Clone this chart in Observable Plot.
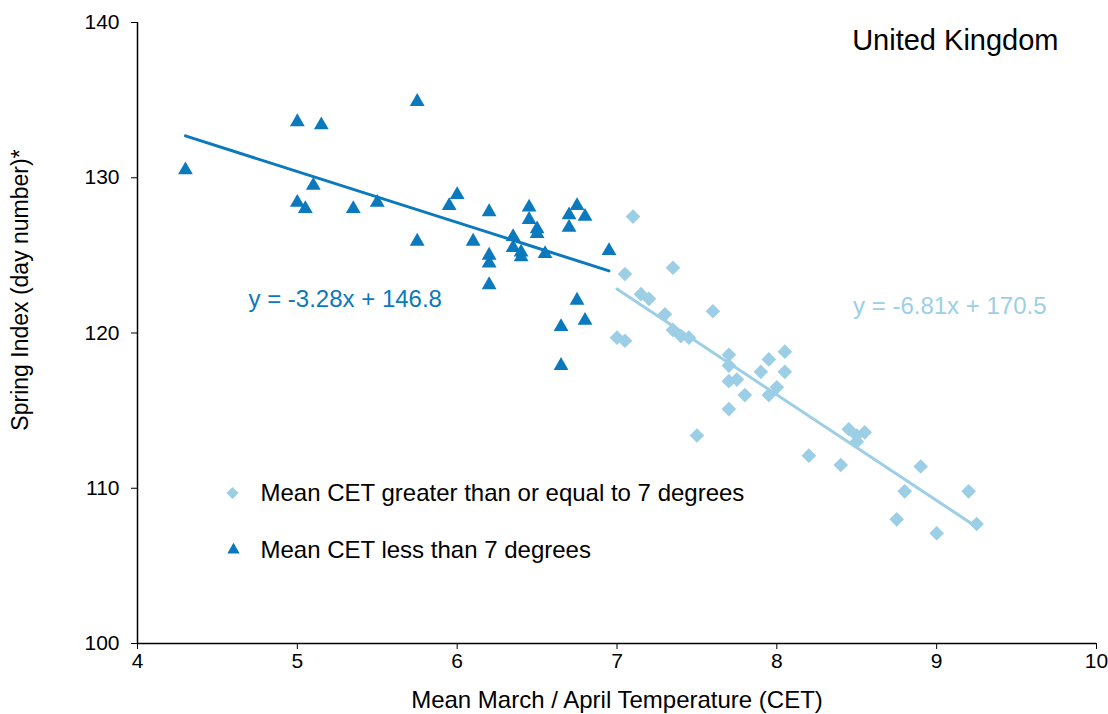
<!DOCTYPE html>
<html>
<head>
<meta charset="utf-8">
<script src="https://cdn.jsdelivr.net/npm/d3@7"></script>
<script src="https://cdn.jsdelivr.net/npm/@observablehq/plot@0.6"></script>
<style>
  html, body { margin: 0; padding: 0; background: #fff; }
  #chart svg { display: block; }
</style>
</head>
<body>
<div id="chart"></div>
<script>
// ---- Data ----
const lowX = [4.30, 5.00, 5.15, 5.75, 5.00, 5.05, 5.10, 5.35, 5.50, 5.75, 5.95, 6.00, 6.10, 6.20, 6.20, 6.20, 6.20, 6.35, 6.35, 6.40, 6.40, 6.45, 6.45, 6.50, 6.50, 6.55, 6.65, 6.65, 6.70, 6.70, 6.75, 6.75, 6.80, 6.80, 6.95];
const lowY = [130.5, 133.6, 133.4, 134.9, 128.4, 128.0, 129.5, 128.0, 128.4, 125.9, 128.2, 128.9, 125.9, 127.8, 125.0, 124.5, 123.1, 126.2, 125.5, 125.2, 124.9, 128.1, 127.3, 126.7, 126.4, 125.1, 120.4, 117.9, 126.8, 127.6, 128.2, 122.1, 127.5, 120.8, 125.3];

const highX = [7.10, 7.05, 7.35, 7.15, 7.20, 7.30, 7.60, 7.35, 7.40, 7.45, 7.00, 7.05, 7.70, 7.70, 7.95, 8.05, 8.05, 7.90, 7.70, 7.75, 7.80, 7.95, 8.00, 7.70, 7.50, 8.45, 8.50, 8.55, 8.50, 8.20, 8.40, 8.90, 8.80, 9.20, 8.75, 9.00, 9.25];
const highY = [127.5, 123.8, 124.2, 122.5, 122.2, 121.2, 121.4, 120.2, 119.8, 119.7, 119.7, 119.5, 118.6, 117.9, 118.3, 118.8, 117.5, 117.5, 116.9, 117.0, 116.0, 116.0, 116.5, 115.1, 113.4, 113.8, 113.4, 113.6, 113.0, 112.1, 111.5, 111.4, 109.8, 109.8, 108.0, 107.1, 107.7];

const lowFit = {slope: -3.28, intercept: 146.8};
const highFit = {slope: -6.81, intercept: 170.5};
const lowEquation = "y = -3.28x + 146.8";
const highEquation = "y = -6.81x + 170.5";

const seriesNames = ["Mean CET greater than or equal to 7 degrees", "Mean CET less than 7 degrees"];
const chartTitle = "United Kingdom";
const xTicks = [4, 5, 6, 7, 8, 9, 10];
const yTicks = [100, 110, 120, 130, 140];
const xLabel = "Mean March / April Temperature (CET)";
const yLabel = "Spring Index (day number)*";

// ---- Styles ----
const darkBlue = "#0a79bd";
const lightBlue = "#9ccfe6";
const font = "'Liberation Sans', Arial, sans-serif";

const lowPts = lowX.map((x, i) => ({x, y: lowY[i]}));
const highPts = highX.map((x, i) => ({x, y: highY[i]}));
const fitLine = (xs, f) => d3.extent(xs).map(x => ({x, y: f.slope * x + f.intercept}));

const chart = Plot.plot({
  width: 1108,
  height: 714,
  marginLeft: 137,
  marginRight: 12,
  marginTop: 22,
  marginBottom: 71,
  style: {fontFamily: font, fontSize: "21px", color: "#000", background: "#fff"},
  x: {domain: [xTicks[0], xTicks[xTicks.length - 1]]},
  y: {domain: [yTicks[0], yTicks[yTicks.length - 1]]},
  marks: [
    Plot.axisX({ticks: xTicks, tickFormat: d => String(d), tickSize: 6, tickPadding: 4, fontSize: 21, label: null}),
    Plot.axisY({ticks: yTicks, tickFormat: d => String(d), tickSize: 6, tickPadding: 12, fontSize: 21, label: null}),
    Plot.ruleX([xTicks[0]], {stroke: "#000", strokeWidth: 1.5}),
    Plot.ruleY([yTicks[0]], {stroke: "#000", strokeWidth: 1.5}),
    Plot.line(fitLine(lowX, lowFit), {x: "x", y: "y", stroke: darkBlue, strokeWidth: 3}),
    Plot.line(fitLine(highX, highFit), {x: "x", y: "y", stroke: lightBlue, strokeWidth: 3}),
    Plot.dot(highPts, {x: "x", y: "y", symbol: "diamond2", r: 6.6, fill: lightBlue, stroke: null}),
    Plot.dot(lowPts, {x: "x", y: "y", symbol: "triangle", r: 5.5, fill: darkBlue, stroke: null}),
    // equations
    Plot.text([lowEquation], {frameAnchor: "left", textAnchor: "start", lineAnchor: "middle", dx: 111, dy: -34, fill: darkBlue, fontSize: 24}),
    Plot.text([highEquation], {frameAnchor: "right", textAnchor: "end", lineAnchor: "middle", dx: -50, dy: -27, fill: lightBlue, fontSize: 24}),
    // title
    Plot.text([chartTitle], {frameAnchor: "top-right", textAnchor: "end", lineAnchor: "middle", dx: -38, dy: 18, fill: "#000", fontSize: 29}),
    // legend
    Plot.dot([seriesNames[0]], {frameAnchor: "left", dx: 95, dy: 160, symbol: "diamond2", r: 5.5, fill: lightBlue}),
    Plot.text([seriesNames[0]], {frameAnchor: "left", textAnchor: "start", lineAnchor: "middle", dx: 123, dy: 160, fill: "#000", fontSize: 24}),
    Plot.dot([seriesNames[1]], {frameAnchor: "left", dx: 96, dy: 217, symbol: "triangle", r: 4.6, fill: darkBlue}),
    Plot.text([seriesNames[1]], {frameAnchor: "left", textAnchor: "start", lineAnchor: "middle", dx: 123, dy: 217, fill: "#000", fontSize: 24}),
    // axis titles
    Plot.text([xLabel], {frameAnchor: "bottom", lineAnchor: "middle", dy: 57, fill: "#000", fontSize: 24}),
    Plot.text([yLabel], {frameAnchor: "left", rotate: -90, lineAnchor: "middle", textAnchor: "middle", dx: -117, dy: -43, fill: "#000", fontSize: 23})
  ]
});
document.getElementById("chart").appendChild(chart);
</script>
</body>
</html>
